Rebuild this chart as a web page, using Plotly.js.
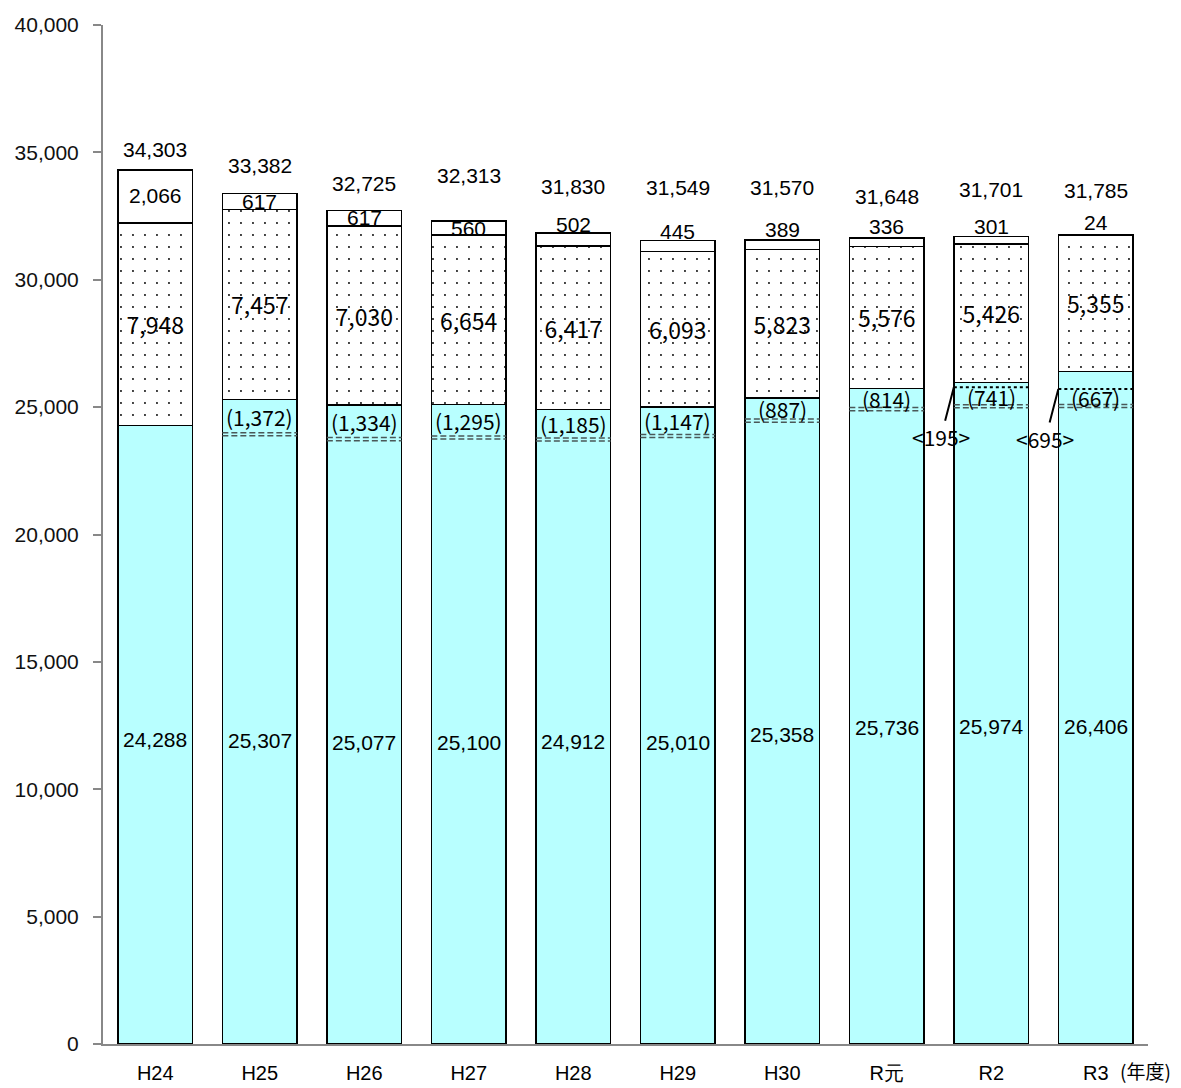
<!DOCTYPE html>
<html>
<head>
<meta charset="utf-8">
<script src="https://cdn.plot.ly/plotly-3.0.1.min.js"></script>
<style>html,body{margin:0;padding:0;background:#fff;}#chart{width:1181px;height:1088px;}</style>
</head>
<body>
<div id="chart"></div>
<script>
// ---- data ----
const categories = ['H24','H25','H26','H27','H28','H29','H30','R元','R2','R3'];
const baseValues   = [24288, 25307, 25077, 25100, 24912, 25010, 25358, 25736, 25974, 26406];
const dottedValues = [7948, 7457, 7030, 6654, 6417, 6093, 5823, 5576, 5426, 5355];
const topValues    = [2066, 617, 617, 560, 502, 445, 389, 336, 301, 24];
const totals       = [34303, 33382, 32725, 32313, 31830, 31549, 31570, 31648, 31701, 31785];
const parenValues  = [null, 1372, 1334, 1295, 1185, 1147, 887, 814, 741, 667];
const angleValues  = [null, null, null, null, null, null, null, null, 195, 695];

// ---- label offsets (pixels), layout only ----
const totalShift = [21, 28, 27, 45, 47, 53, 52, 41, 47, 44];
const topShift   = [-25, -8, -7, -8, 9, 9, 10, 11, 10, 12];
const baseShift  = [-5, -19, -18, -18, -15, -17, -13, -11, -13, -19];

const fmt = v => v.toLocaleString('en-US');
const gothic = 'Noto Sans CJK JP, Noto Sans, sans-serif';
const arial = 'Liberation Sans, Arial, sans-serif';
const half = 0.358;

const traces = [
  {
    type: 'bar', x: categories, y: baseValues,
    marker: {color: '#b8ffff', line: {color: '#000', width: 1.5}},
    hoverinfo: 'skip'
  },
  {
    type: 'bar', x: categories, y: dottedValues,
    marker: {color: '#ffffff', line: {color: '#000', width: 1.5},
      pattern: {shape: '.', fgcolor: '#000', bgcolor: '#ffffff', size: 12, solidity: 0.02, fillmode: 'replace'}},
    text: dottedValues.map(fmt), textposition: 'inside', insidetextanchor: 'middle',
    textangle: 0, constraintext: 'none',
    textfont: {family: gothic, size: 23, color: '#000'},
    hoverinfo: 'skip'
  },
  {
    type: 'bar', x: categories, y: topValues,
    marker: {color: '#ffffff', line: {color: '#000', width: 1.5}},
    hoverinfo: 'skip'
  }
];

const annotations = [];
const shapes = [];
categories.forEach((c, i) => {
  annotations.push({x: i, y: totals[i], xref: 'x', yref: 'y', yshift: totalShift[i], text: fmt(totals[i]),
    showarrow: false, font: {family: arial, size: 21, color: '#000'}});
  annotations.push({x: i, y: totals[i], xref: 'x', yref: 'y', yshift: topShift[i], text: fmt(topValues[i]),
    showarrow: false, font: {family: arial, size: 21, color: '#000'}});
  annotations.push({x: i, y: baseValues[i] / 2, xref: 'x', yref: 'y', yshift: baseShift[i], text: fmt(baseValues[i]),
    showarrow: false, font: {family: arial, size: 21, color: '#000'}});
  const topLine = baseValues[i] - (angleValues[i] || 0);
  if (angleValues[i] !== null) {
    shapes.push({type: 'line', xref: 'x', yref: 'y', x0: i - half, x1: i + half, y0: topLine, y1: topLine,
      line: {color: '#000', width: 2, dash: 'dot'}});
    annotations.push({x: i - half, y: topLine, xref: 'x', yref: 'y', text: '<' + angleValues[i] + '>',
      showarrow: true, arrowhead: 0, arrowwidth: 2, arrowcolor: '#000', ax: -13, ay: 50, standoff: 0,
      font: {family: gothic, size: 21, color: '#000'}});
  }
  if (parenValues[i] !== null) {
    const lineY = topLine - parenValues[i];
    [60, -60].forEach(d => shapes.push({type: 'line', xref: 'x', yref: 'y', x0: i - half, x1: i + half,
      y0: lineY + d, y1: lineY + d, line: {color: '#4a5858', width: 1.5, dash: '6px,3px'}}));
    annotations.push({x: i, y: topLine - parenValues[i] / 2, xref: 'x', yref: 'y', text: '(' + fmt(parenValues[i]) + ')',
      showarrow: false, font: {family: gothic, size: 21, color: '#000'}});
  }
});
annotations.push({x: 1.0, y: 0, xref: 'paper', yref: 'paper', xanchor: 'left', yanchor: 'top', xshift: -30, yshift: -11,
  text: '(年度)', showarrow: false, font: {family: gothic, size: 19, color: '#000'}});

const layout = {
  width: 1181, height: 1088,
  margin: {l: 103, r: 33, t: 25, b: 44},
  barmode: 'stack', bargap: 0.284,
  showlegend: false,
  paper_bgcolor: '#fff', plot_bgcolor: '#fff',
  xaxis: {type: 'category', showline: true, linecolor: '#888', linewidth: 2, ticks: '',
    tickfont: {family: arial, size: 20, color: '#000'}, ticklabelstandoff: 10, showgrid: false, zeroline: false},
  yaxis: {range: [0, 40000], dtick: 5000, tickformat: ',d', ticks: 'outside', ticklen: 8, tickwidth: 2,
    tickcolor: '#888', showline: true, linecolor: '#888', linewidth: 2, showgrid: false, zeroline: false,
    tickfont: {family: arial, size: 21, color: '#111'}, ticklabelstandoff: 10},
  annotations: annotations,
  shapes: shapes
};

Plotly.newPlot('chart', traces, layout, {displayModeBar: false, staticPlot: true});
</script>
</body>
</html>
